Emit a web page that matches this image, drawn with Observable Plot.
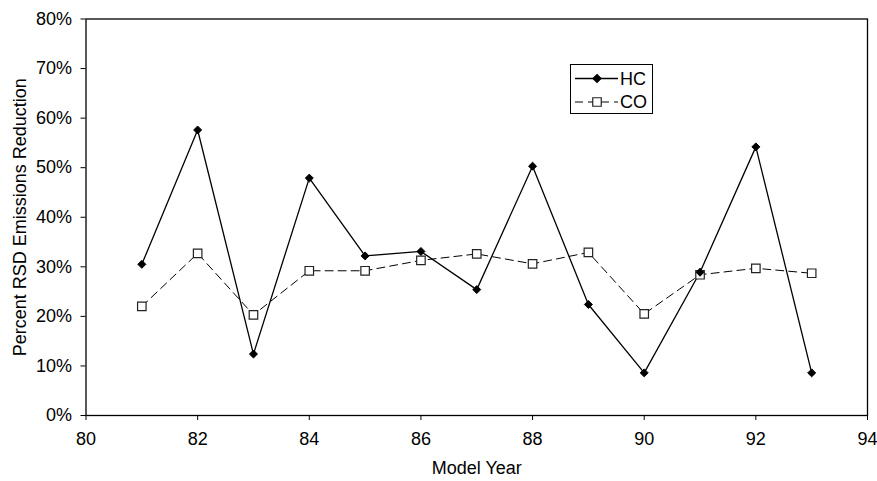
<!DOCTYPE html>
<html>
<head>
<meta charset="utf-8">
<script src="https://cdn.jsdelivr.net/npm/d3@7"></script>
<script src="https://cdn.jsdelivr.net/npm/@observablehq/plot@0.6"></script>
<style>
  html, body { margin: 0; padding: 0; background: #fff; }
  #wrap { position: relative; width: 877px; height: 481px; font-family: "Liberation Sans", Arial, sans-serif; }
  #legend {
    position: absolute; left: 570px; top: 64px; width: 83px; height: 50px;
    border: 1px solid #000; background: #fff; box-sizing: border-box;
  }
  #legend svg { display: block; }
</style>
</head>
<body>
<div id="wrap">
  <div id="chart"></div>
  <div id="legend"></div>
</div>
<script>
// Model years and percent RSD emissions reduction per pollutant
const years = [81, 82, 83, 84, 85, 86, 87, 88, 89, 90, 91, 92, 93];
const hcReduction = [0.305, 0.576, 0.124, 0.479, 0.322, 0.331, 0.254, 0.503, 0.224, 0.086, 0.289, 0.542, 0.086];
const coReduction = [0.220, 0.327, 0.203, 0.292, 0.292, 0.313, 0.326, 0.306, 0.329, 0.205, 0.284, 0.297, 0.287];
const xTicks = [80, 82, 84, 86, 88, 90, 92, 94];
const yTicks = [0, 0.1, 0.2, 0.3, 0.4, 0.5, 0.6, 0.7, 0.8];

const hcRows = years.map((year, i) => ({year, value: hcReduction[i]}));
const coRows = years.map((year, i) => ({year, value: coReduction[i]}));

const chart = Plot.plot({
  width: 877,
  height: 481,
  marginLeft: 85.5,
  marginRight: 10,
  marginTop: 18.5,
  marginBottom: 66,
  style: {fontFamily: "'Liberation Sans', Arial, sans-serif", fontSize: "18px", color: "#000", background: "#fff"},
  x: {domain: [80, 94]},
  y: {domain: [0, 0.8]},
  marks: [
    Plot.frame({stroke: "#000", strokeWidth: 1.3}),
    Plot.axisX({ticks: xTicks, tickSize: 5, tickPadding: 12, fontSize: 18,
      label: "Model Year", labelAnchor: "center", labelArrow: "none", labelOffset: 58}),
    Plot.axisY({ticks: yTicks, tickSize: 5, tickPadding: 9, fontSize: 18, tickFormat: d3.format(".0%"),
      label: "Percent RSD Emissions Reduction", labelAnchor: "center", labelArrow: "none", labelOffset: 73}),
    Plot.line(coRows, {x: "year", y: "value", stroke: "#000", strokeWidth: 1, strokeDasharray: "8,5"}),
    Plot.line(hcRows, {x: "year", y: "value", stroke: "#000", strokeWidth: 1.3}),
    Plot.dot(coRows, {x: "year", y: "value", symbol: "square", r: 4.8, fill: "#fff", stroke: "#222", strokeWidth: 1.2}),
    Plot.dot(hcRows, {x: "year", y: "value", symbol: "diamond2", r: 3.6, fill: "#000", stroke: "#000", strokeWidth: 1})
  ]
});
document.getElementById("chart").append(chart);

// Legend: one row per series, sample line with its marker and the series name
const series = [
  {name: "HC", dash: null, symbol: d3.symbolDiamond2, size: 3.6 * 3.6 * Math.PI, fill: "#000", stroke: "#000"},
  {name: "CO", dash: "8,5", symbol: d3.symbolSquare, size: 4.8 * 4.8 * Math.PI, fill: "#fff", stroke: "#222"}
];
const lg = d3.select("#legend").append("svg").attr("width", 81).attr("height", 48);
series.forEach((s, i) => {
  const g = lg.append("g").attr("transform", `translate(0,${13.5 + i * 23.5})`);
  g.append("line").attr("x1", 4).attr("x2", 47).attr("stroke", "#000")
    .attr("stroke-width", s.dash ? 1 : 1.3).attr("stroke-dasharray", s.dash);
  g.append("path").attr("transform", "translate(26,0)").attr("d", d3.symbol(s.symbol, s.size)())
    .attr("fill", s.fill).attr("stroke", s.stroke).attr("stroke-width", 1.2);
  g.append("text").attr("x", 49).attr("y", 0).attr("dy", "0.35em")
    .attr("font-family", "'Liberation Sans', Arial, sans-serif").attr("font-size", 18).text(s.name);
});
</script>
</body>
</html>
